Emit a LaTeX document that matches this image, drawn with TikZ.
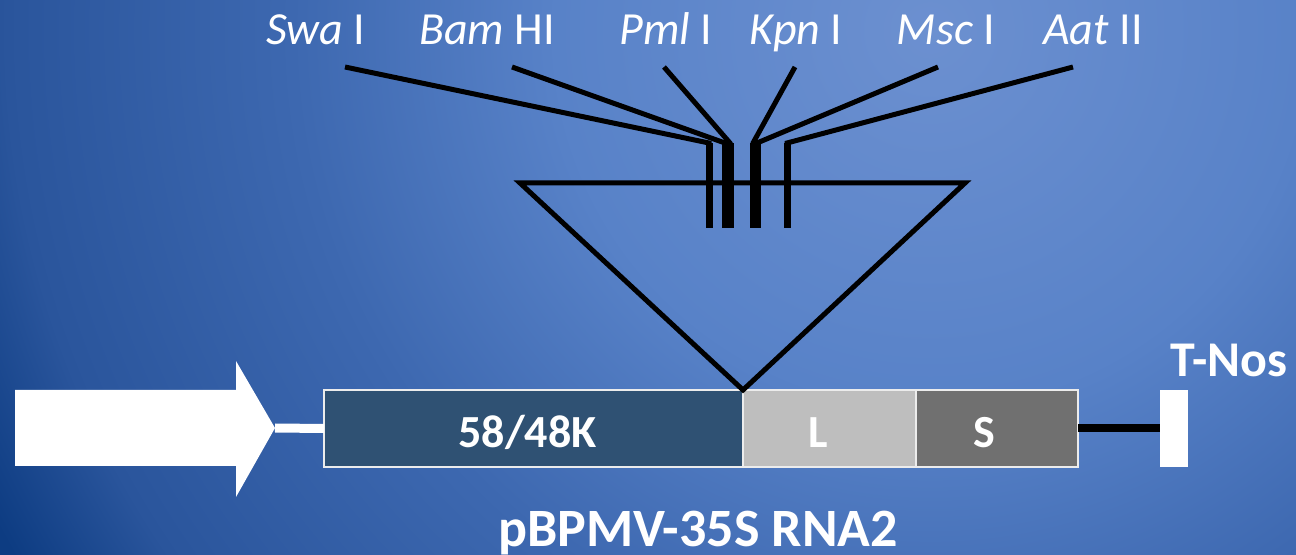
\documentclass[tikz,border=0pt]{standalone}
\usepackage{fontspec}
\setmainfont{Carlito}
\usetikzlibrary{positioning}

\definecolor{glowA}{HTML}{6C90D0}
\definecolor{glowB}{HTML}{5882C8}
\definecolor{glowC}{HTML}{3D68B0}
\definecolor{glowD}{HTML}{2A559C}
\definecolor{glowE}{HTML}{0D3C82}
\definecolor{cpdark}{HTML}{2F5173}
\definecolor{cplight}{HTML}{BEBEBE}
\definecolor{cpmid}{HTML}{707070}

\pgfdeclareradialshading{bgglow}{\pgfpoint{0bp}{0bp}}{color(0bp)=(glowA); color(8.5bp)=(glowB); color(14.5bp)=(glowC); color(21bp)=(glowD); color(24bp)=(glowE); color(50bp)=(glowE)}

\tikzset{
  gene/.style={draw=white!85!gray, line width=1pt, inner sep=0pt, outer sep=0pt,
    minimum height=38.5pt},
  gtext/.style={text=white, inner sep=0pt, font=\bfseries\fontsize{23}{27}\selectfont},
  enz/.style={text=white, anchor=base, inner sep=0pt, font=\fontsize{23}{27}\selectfont},
  title/.style={text=white, anchor=base, inner sep=0pt},
  cut/.style={line width=2.5pt},
  site/.style={line width=3.5pt},
}

\begin{document}
\begin{tikzpicture}[x=0.5pt,y=-0.5pt]
  % background
  \begin{scope}
    \clip (0,0) rectangle (1296,555);
    \shade[shading=bgglow] (930,30) circle [radius=550pt];
  \end{scope}
  \useasboundingbox (0,0) rectangle (1296,555);

  % 35S promoter
  \fill[white] (15,390) -- (236,390) -- (236,361) -- (275,428) -- (236,497) -- (236,466) -- (15,466) -- cycle;
  \coordinate (ptip) at (275,428);

  % RNA2 cassette
  \node[gene, fill=cpdark, minimum width=209.5pt] (mp) at (533.5,428.5) {};
  \node[gene, fill=cplight, minimum width=86.5pt, right=0pt of mp] (lcp) {};
  \node[gene, fill=cpmid, minimum width=81pt, right=0pt of lcp] (scp) {};
  \node[fill=white, inner sep=0pt, minimum width=14pt, minimum height=38.5pt] (tnos) at (1174,428.5) {};

  \node[gtext] (mptext) at ([xshift=-3pt,yshift=-2pt]mp.center) {58/48K};
  \node[gtext] (ltext) at ([xshift=-5.5pt,yshift=-2pt]lcp.center) {L};
  \node[gtext] (stext) at ([xshift=-6.5pt,yshift=-2pt]scp.center) {S};

  \draw[white, line width=4.5pt] (ptip) -- (mp.west);
  \draw[line width=4pt] (scp.east) -- (tnos.west);

  \node[title, font=\bfseries\fontsize{25}{30}\selectfont] (tnoslbl) at (1229,377) {T-Nos};
  \node[title, font=\bfseries\fontsize{27}{32}\selectfont] (name) at (698,546) {pBPMV-35S RNA2};

  % insertion site
  \draw[line width=2.5pt] (520,183) -- (965,183) -- (mp.north east) -- cycle;

  % restriction sites
  \foreach \nm/\enzyme/\lx/\sx/\bx in {swa/{\textit{Swa} I}/316/345/709,
      bam/{\textit{Bam} HI}/487/512/725, pml/{\textit{Pml} I}/666/664/730,
      kpn/{\textit{Kpn} I}/796/795/753, msc/{\textit{Msc} I}/946/938/757,
      aat/{\textit{Aat} II}/1093/1073/787}{
    \node[enz] (\nm) at (\lx,45) {\enzyme};
    \draw[cut] (\sx,67) -- (\bx,143) -- (\bx,228);
    \draw[site] (\bx,143) -- (\bx,228);
  }
\end{tikzpicture}
\end{document}
